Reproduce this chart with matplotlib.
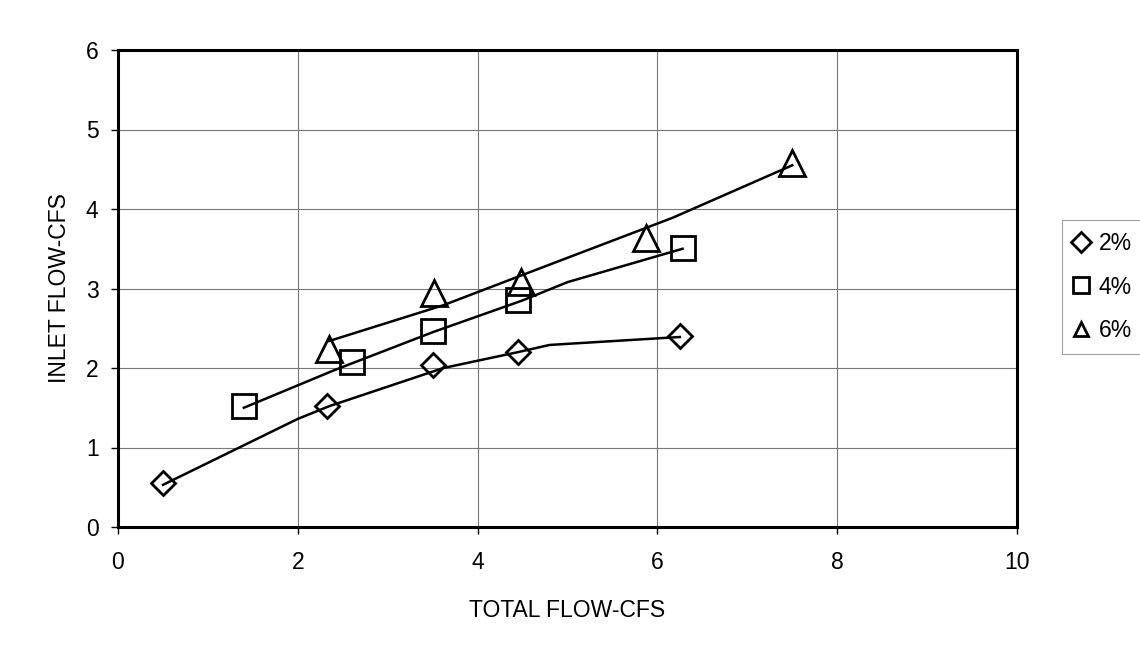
import matplotlib.pyplot as plt
from matplotlib.lines import Line2D

plt.rcParams['font.family'] = ['Liberation Sans', 'DejaVu Sans']

# measured points
x_2 = [0.5, 2.33, 3.5, 4.45, 6.25]
y_2 = [0.55, 1.52, 2.04, 2.2, 2.4]
x_4 = [1.4, 2.6, 3.5, 4.45, 6.28]
y_4 = [1.52, 2.07, 2.46, 2.86, 3.51]
x_6 = [2.35, 3.52, 4.48, 5.87, 7.5]
y_6 = [2.24, 2.94, 3.08, 3.64, 4.58]

# hand-fitted curves as drawn on the sheet
fit_x_2 = [0.5, 2.0, 2.35, 3.62, 4.45, 4.8, 6.25]
fit_y_2 = [0.53, 1.36, 1.52, 2.0, 2.2, 2.29, 2.39]
fit_x_4 = [1.4, 2.4, 3.5, 4.5, 5.0, 6.28]
fit_y_4 = [1.5, 1.97, 2.45, 2.85, 3.08, 3.5]
fit_x_6 = [2.35, 3.62, 4.8, 6.17, 7.5]
fit_y_6 = [2.34, 2.79, 3.3, 3.89, 4.55]

labels = ['2%', '4%', '6%']
markers = ['D', 's', '^']
msizes = [12, 17, 19]

fig = plt.figure(figsize=(11.4, 6.6), dpi=100)
ax = fig.add_axes([118 / 1140, 1 - 527 / 660, 899 / 1140, 477 / 660])

series = [(x_2, y_2, fit_x_2, fit_y_2), (x_4, y_4, fit_x_4, fit_y_4),
          (x_6, y_6, fit_x_6, fit_y_6)]
for (xs, ys, fx, fy), m, ms in zip(series, markers, msizes):
    ax.plot(fx, fy, color='black', lw=1.8, zorder=3)
    ax.plot(xs, ys, linestyle='none', marker=m, ms=ms,
            mfc='none', mec='black', mew=2, zorder=4)

ax.set_xlim(0, 10)
ax.set_ylim(0, 6)
ax.set_xticks(range(0, 11, 2))
ax.set_yticks(range(0, 7))
ax.grid(True, color='#777777', lw=0.8)
ax.set_axisbelow(True)
for s in ax.spines.values():
    s.set_linewidth(2.2)
ax.tick_params(direction='out', length=5, width=1, labelsize=16.5)
ax.tick_params(axis='x', pad=12)
ax.tick_params(axis='y', pad=9)
ax.set_xlabel('TOTAL FLOW-CFS', fontsize=16.5, labelpad=18)
ax.set_ylabel('INLET FLOW-CFS', fontsize=16.5, labelpad=11)

handles = [Line2D([], [], linestyle='none', marker=m, ms=10 if m != 's' else 11,
                  mfc='none', mec='black', mew=2) for m in markers]
leg = fig.legend(handles, labels, loc='center left',
                 bbox_to_anchor=(1062 / 1140, 1 - 287 / 660),
                 frameon=True, fancybox=False, fontsize=16.5,
                 handlelength=0.7, handletextpad=0.4, labelspacing=0.9,
                 borderpad=0.5, borderaxespad=0)
leg.get_frame().set_edgecolor('#888888')
leg.get_frame().set_linewidth(0.8)

fig.savefig('out.png', dpi=100)
